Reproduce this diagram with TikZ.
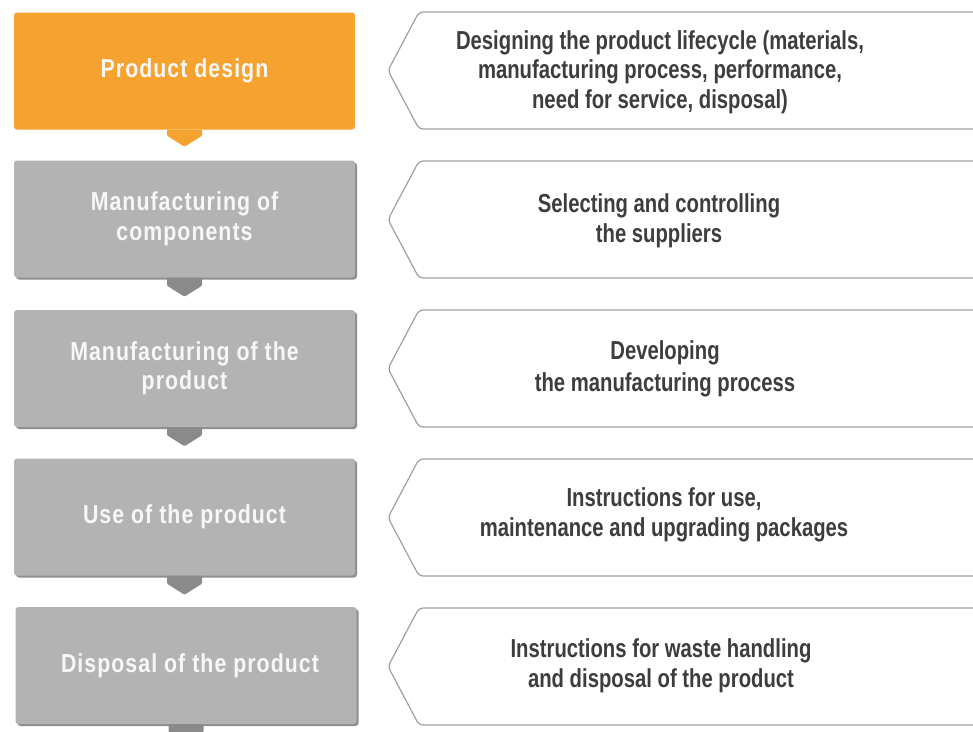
\documentclass[tikz,border=0pt]{standalone}
\usepackage{fontspec}
\newfontfamily\condfont{Liberation Sans}[FakeStretch=0.78]
\newfontfamily\stagefont{Liberation Sans}[FakeStretch=0.82, LetterSpace=4]
\usetikzlibrary{shadows}

\definecolor{orangefill}{HTML}{F5A22E}
\definecolor{boxgray}{HTML}{B3B3B3}
\definecolor{shadowgray}{HTML}{8E8E8E}
\definecolor{tabgray}{HTML}{8A8A8A}
\definecolor{linegray}{HTML}{A0A0A0}
\definecolor{textdark}{HTML}{3D3D3D}
\definecolor{textlight}{HTML}{F7F7F7}

\tikzset{
  stagelabel/.style={font={\stagefont\bfseries\fontsize{26}{29.5}\selectfont}},
  tasklabel/.style={font={\condfont\bfseries\fontsize{26}{29.5}\selectfont}},
  stage/.style={rectangle, rounded corners=3pt, minimum width=341pt,
    minimum height=117pt, inner sep=0pt, align=center, text=textlight, stagelabel},
  orange stage/.style={stage, fill=orangefill},
  grey stage/.style={stage, fill=boxgray,
    drop shadow={shadow xshift=2pt, shadow yshift=-2pt, fill=shadowgray, opacity=1}},
  task/.style={align=center, text=textdark, inner sep=0pt, tasklabel},
  taskframe/.style={draw=linegray, line width=1.2pt, rounded corners=4pt},
  tab/.style={rounded corners=1pt},
}

\begin{document}
\begin{tikzpicture}[x=1pt, y=-1pt]
  \useasboundingbox[fill=white] (0,0) rectangle (973,731);

  % lifecycle stages (left column)
  \node[orange stage] (s1) at (184.5,71) {\raisebox{-1pt}{Product design}};
  \node[grey stage]   (s2) at (184.5,219) {Manufacturing of\\components};
  \node[grey stage]   (s3) at (184.5,368.5) {Manufacturing of the\\product};
  \node[grey stage]   (s4) at (184.5,517) {Use of the product};
  \node[grey stage]   (s5) at (186,665.5) {\hspace*{8pt}Disposal of the product};

  % downward tabs under each stage
  \fill[orangefill, tab] ([xshift=-17.5pt]s1.south) -- ++(0,6) -- ++(17.5,11) -- ++(17.5,-11) -- ++(0,-6) -- cycle;
  \foreach \s in {s2,s3,s4,s5}
    \fill[tabgray, tab] ([xshift=-17.5pt]\s.south) -- ++(0,8) -- ++(17.5,11) -- ++(17.5,-11) -- ++(0,-8) -- cycle;

  % task frames (right column), pointing at the stages
  \foreach \t in {12,161,310,459,608}
    \draw[taskframe] (990,\t) -- (419,\t) -- (388,\t+58.5) -- (419,\t+117) -- (990,\t+117);

  \node[task] (t1) at (660,72) {Designing the product lifecycle (materials,\\manufacturing process, performance,\\need for service, disposal)};
  \node[task] (t2) at (659,221) {Selecting and controlling\\the suppliers};
  \node[task] (t3) at (665,369) {Developing\\[2pt]the manufacturing process};
  \node[task] (t4) at (664,515) {Instructions for use,\\maintenance and upgrading packages};
  \node[task] (t5) at (661,666) {Instructions for waste handling\\and disposal of the product};
\end{tikzpicture}
\end{document}
